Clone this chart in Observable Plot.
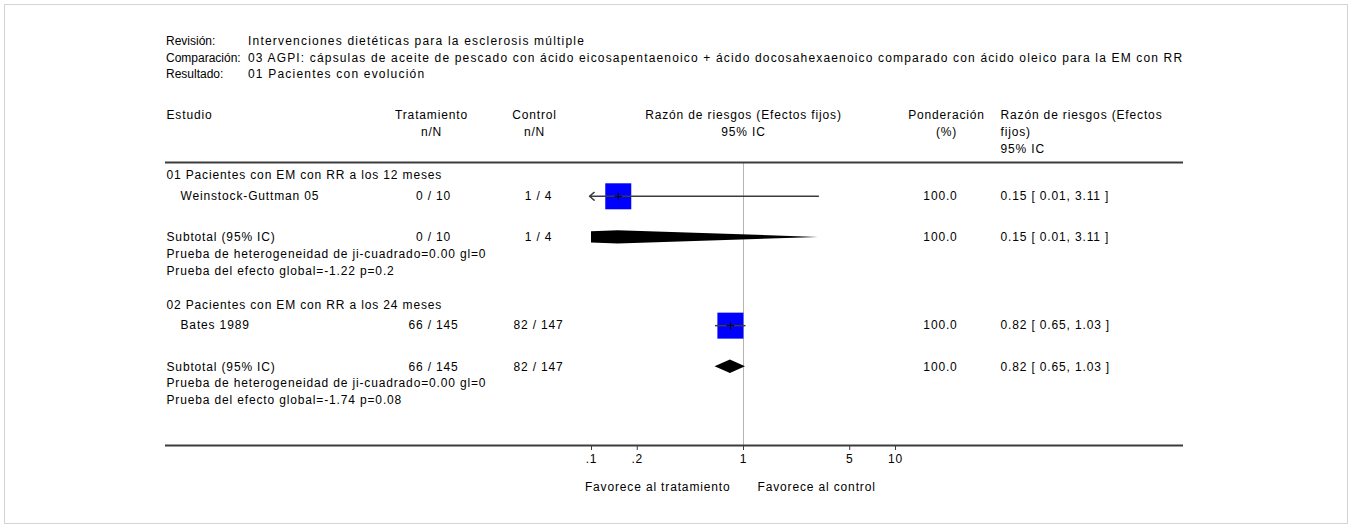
<!DOCTYPE html>
<html><head><meta charset="utf-8">
<script src="https://cdn.jsdelivr.net/npm/d3@7"></script>
<script src="https://cdn.jsdelivr.net/npm/@observablehq/plot@0.6"></script>
<style>
body{margin:0;background:#fff;}
#box{position:absolute;left:4px;top:4px;width:1344px;height:520px;box-sizing:border-box;border:1px solid #d4d4d4;z-index:2;pointer-events:none;}
.hd{position:absolute;font:12px "Liberation Sans",Arial,sans-serif;color:#000;line-height:16px;white-space:nowrap;}
#chart{position:absolute;left:0;top:95px;}
</style></head><body>
<div id="box"></div>
<div id="head"></div>
<div id="chart"></div>
<script>
// ---- data ----
const reviewLabels = ["Revisión:", "Comparación:", "Resultado:"];
const reviewValues = [
  "Intervenciones dietéticas para la esclerosis múltiple",
  "03 AGPI: cápsulas de aceite de pescado con ácido eicosapentaenoico + ácido docosahexaenoico comparado con ácido oleico para la EM con RR",
  "01 Pacientes con evolución"
];
const groupNames = ["01 Pacientes con EM con RR a los 12 meses", "02 Pacientes con EM con RR a los 24 meses"];
const studyNames = ["Weinstock-Guttman 05", "Bates 1989"];
const treatEvents = [0, 66];
const treatTotals = [10, 145];
const controlEvents = [1, 82];
const controlTotals = [4, 147];
const studyRR = [0.15, 0.82];
const studyLow = [0.01, 0.65];
const studyHigh = [3.11, 1.03];
const studyWeight = [100.0, 100.0];
const subtotalRR = [0.15, 0.82];
const subtotalLow = [0.01, 0.65];
const subtotalHigh = [3.11, 1.03];
const subtotalWeight = [100.0, 100.0];
const heterogeneity = ["Prueba de heterogeneidad de ji-cuadrado=0.00 gl=0", "Prueba de heterogeneidad de ji-cuadrado=0.00 gl=0"];
const overallEffect = ["Prueba del efecto global=-1.22 p=0.2", "Prueba del efecto global=-1.74 p=0.08"];
const headerStudy = ["Estudio"];
const headerTreat = ["Tratamiento", "n/N"];
const headerControl = ["Control", "n/N"];
const headerForest = ["Razón de riesgos (Efectos fijos)", "95% IC"];
const headerWeight = ["Ponderación", "(%)"];
const headerEffect = ["Razón de riesgos (Efectos", "fijos)", "95% IC"];
const subtotalLabel = "Subtotal (95% IC)";
const tickValues = [0.1, 0.2, 1, 5, 10];
const tickLabels = [".1", ".2", "1", "5", "10"];
const favoursLeft = "Favorece al tratamiento";
const favoursRight = "Favorece al control";
const nullValue = 1;

// ---- header block (HTML) ----
const head = document.getElementById("head");
reviewLabels.forEach((t, i) => {
  const a = document.createElement("div");
  a.className = "hd"; a.textContent = t;
  a.style.left = "166px"; a.style.top = (33 + i * 16.5) + "px";
  head.appendChild(a);
  const b = document.createElement("div");
  b.className = "hd"; b.textContent = reviewValues[i];
  b.style.left = "248px"; b.style.top = (33 + i * 16.5) + "px";
  b.style.letterSpacing = i === 1 ? "1.16px" : "1.2px";
  head.appendChild(b);
});

// ---- row layout (line units) ----
const fmt = v => v.toFixed(2);
const rows = [];
let line = 0.78;
groupNames.forEach((g, i) => {
  rows.push({kind: "group", line, text: g});
  line += 1.25;
  rows.push({kind: "study", line, text: studyNames[i], treat: `${treatEvents[i]} / ${treatTotals[i]}`, ctrl: `${controlEvents[i]} / ${controlTotals[i]}`,
    rr: studyRR[i], lo: studyLow[i], hi: studyHigh[i], weight: studyWeight[i].toFixed(1),
    eff: `${fmt(studyRR[i])} [ ${fmt(studyLow[i])}, ${fmt(studyHigh[i])} ]`});
  line += 2.47;
  rows.push({kind: "subtotal", line, text: subtotalLabel, treat: `${treatEvents[i]} / ${treatTotals[i]}`, ctrl: `${controlEvents[i]} / ${controlTotals[i]}`,
    rr: subtotalRR[i], lo: subtotalLow[i], hi: subtotalHigh[i], weight: subtotalWeight[i].toFixed(1),
    eff: `${fmt(subtotalRR[i])} [ ${fmt(subtotalLow[i])}, ${fmt(subtotalHigh[i])} ]`, g: i});
  line += 1.0;
  rows.push({kind: "stat", line, text: heterogeneity[i]});
  line += 1.0;
  rows.push({kind: "stat", line, text: overallEffect[i]});
  line += 2.05;
});
const studies = rows.filter(r => r.kind === "study");
const subtotals = rows.filter(r => r.kind === "subtotal");
const numeric = rows.filter(r => r.kind === "study" || r.kind === "subtotal");

const xMin = tickValues[0];
const clippedStudies = studies.filter(d => d.lo < xMin);
const openStudies = studies.filter(d => d.lo >= xMin);

// diamonds (clipped to the axis domain)
const half = 0.4;
const diamond = [];
subtotals.forEach(d => {
  const L = Math.log(d.lo), E = Math.log(d.rr), M = Math.log(xMin);
  if (d.lo < xMin) {
    const f = (M - L) / (E - L);
    diamond.push({g: d.g, x: xMin, y1: d.line - half * f, y2: d.line + half * f});
  } else {
    diamond.push({g: d.g, x: d.lo, y1: d.line, y2: d.line});
  }
  diamond.push({g: d.g, x: d.rr, y1: d.line - half, y2: d.line + half});
  diamond.push({g: d.g, x: d.hi, y1: d.line, y2: d.line});
});

// header rows
const hdr = (arr, col) => arr.map((t, k) => ({col, text: t, line: -2.82 + k * 1.02}));
const headers = [...hdr(headerStudy, "study"), ...hdr(headerTreat, "treat"), ...hdr(headerControl, "ctrl"),
  ...hdr(headerForest, "forest"), ...hdr(headerWeight, "weight"), ...hdr(headerEffect, "effect")];

const lineColor = "#3c3c3c";
const chart = Plot.plot({
  width: 1351,
  height: 420,
  marginTop: 67,
  marginBottom: 70,
  marginLeft: 165,
  marginRight: 168,
  style: {fontFamily: '"Liberation Sans", Arial, sans-serif', fontSize: "12px", color: "#000", background: "transparent", letterSpacing: "0.85px", overflow: "visible"},
  x: {type: "log", domain: [tickValues[0], tickValues[tickValues.length - 1]], range: [591, 895]},
  y: {domain: [0, 17], reverse: true, axis: null},
  marks: [
    Plot.ruleX([nullValue], {y1: 0, y2: 17, stroke: "#b4b4b4", strokeWidth: 1}),
    Plot.ruleY([0, 17], {stroke: lineColor, strokeWidth: 2}),
    Plot.axisX({ticks: tickValues, tickFormat: d => tickLabels[tickValues.indexOf(d)], tickSize: 5, tickPadding: 4, label: null, stroke: lineColor}),
    // headers
    Plot.text(headers.filter(d => d.col === "study"), {y: "line", text: "text", frameAnchor: "left", dx: 1, textAnchor: "start"}),
    Plot.text(headers.filter(d => d.col === "treat"), {y: "line", text: "text", frameAnchor: "left", dx: 266, textAnchor: "middle"}),
    Plot.text(headers.filter(d => d.col === "ctrl"), {y: "line", text: "text", frameAnchor: "left", dx: 369, textAnchor: "middle"}),
    Plot.text(headers.filter(d => d.col === "forest"), {x: () => nullValue, y: "line", text: "text", textAnchor: "middle"}),
    Plot.text(headers.filter(d => d.col === "weight"), {y: "line", text: "text", frameAnchor: "left", dx: 781, textAnchor: "middle"}),
    Plot.text(headers.filter(d => d.col === "effect"), {y: "line", text: "text", frameAnchor: "left", dx: 835, textAnchor: "start"}),
    // left labels
    Plot.text(rows.filter(r => r.kind === "group"), {y: "line", text: "text", frameAnchor: "left", dx: 1, textAnchor: "start", ariaLabel: "group-title"}),
    Plot.text(studies, {y: "line", text: "text", frameAnchor: "left", dx: 15, textAnchor: "start"}),
    Plot.text(rows.filter(r => r.kind === "subtotal" || r.kind === "stat"), {y: "line", text: "text", frameAnchor: "left", dx: 1, textAnchor: "start"}),
    // numeric columns
    Plot.text(numeric, {y: "line", text: "treat", frameAnchor: "left", dx: 268, textAnchor: "middle"}),
    Plot.text(numeric, {y: "line", text: "ctrl", frameAnchor: "left", dx: 373, textAnchor: "middle"}),
    Plot.text(numeric, {y: "line", text: "weight", frameAnchor: "left", dx: 775, textAnchor: "middle"}),
    Plot.text(numeric, {y: "line", text: "eff", frameAnchor: "left", dx: 835, textAnchor: "start"}),
    // study squares and CIs
    Plot.dot(studies, {x: "rr", y: "line", r: "weight", symbol: "square", fill: "#0000ff", stroke: "none"}),
    Plot.link(openStudies, {x1: "lo", x2: "hi", y1: "line", y2: "line", stroke: lineColor, strokeWidth: 1.5}),
    Plot.arrow(clippedStudies, {x1: "hi", x2: () => xMin, y1: "line", y2: "line", stroke: lineColor, strokeWidth: 1.5, headLength: 6, headAngle: 80, insetEnd: -2}),
    Plot.dot(studies, {x: "rr", y: "line", symbol: "plus", r: 2.5, stroke: "#000", strokeWidth: 1}),
    // subtotal diamonds
    Plot.areaY(diamond, {x: "x", y1: "y1", y2: "y2", z: "g", fill: "#000", curve: "linear"}),
    // favours labels
    Plot.text([favoursLeft], {x: () => nullValue, text: d => d, frameAnchor: "bottom", dy: 45, dx: -13, textAnchor: "end"}),
    Plot.text([favoursRight], {x: () => nullValue, text: d => d, frameAnchor: "bottom", dy: 45, dx: 14, textAnchor: "start"})
  ],
  r: {type: "sqrt", domain: [0, 100], range: [0, 14.67]}
});
d3.select(chart).selectAll('g[aria-label="group-title"] text').style("letter-spacing", "1.3px");
document.getElementById("chart").appendChild(chart);
</script>
</body></html>
